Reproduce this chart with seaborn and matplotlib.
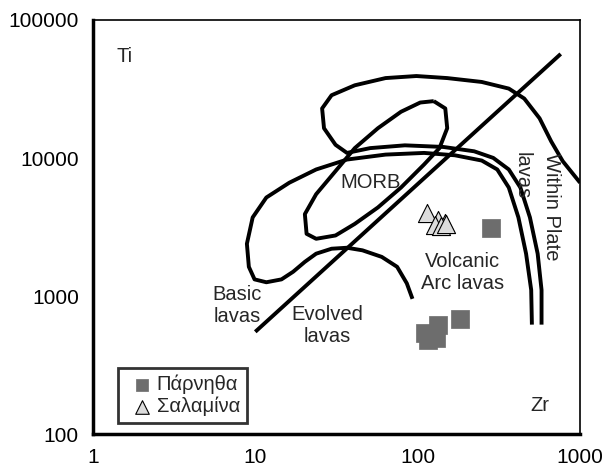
import matplotlib
matplotlib.use("Agg")
import matplotlib.pyplot as plt
import seaborn as sns
import pandas as pd

# sample points
parnitha_zr = [282, 182, 134, 111, 116, 129, 120]
parnitha_ti = [3100, 680, 617, 542, 480, 500, 520]
salamina_zr = [114, 134, 147, 128, 140, 150]
salamina_ti = [3970, 3550, 3370, 3250, 3200, 3300]

# discrimination boundaries (Zr, Ti)
line_zr = [10, 760]
line_ti = [551, 56750]

arc_zr = [92.9, 85.7, 74.7, 60.1, 45.7, 36.7, 29.5, 23.7, 20.2, 17.1, 14.5, 11.7, 9.9, 9.13,
          8.88, 9.64, 11.7, 16.2, 23.7, 36.7, 63.4, 109.5, 169.4, 248, 309, 364, 417, 465, 500, 505]
arc_ti = [955, 1237, 1629, 1922, 2145, 2239, 2203, 2028, 1770, 1500, 1321, 1259, 1321, 1629,
          2393, 3715, 5176, 6625, 8262, 9750, 10590, 10890, 10470, 9590, 8262, 6110, 3715, 2028, 1107, 621]

wpl_zr = [1000, 782, 664, 563, 453, 364, 248, 152, 98.2, 63.4, 41.0, 29.5, 25.8, 26.5, 31.2, 36.7,
          51.0, 83.4, 143.9, 222.7, 292, 364, 429, 491, 548, 579, 579]
wpl_ti = [6625, 9490, 13190, 19400, 26980, 31850, 35570, 37950, 39270, 37950, 33650, 28510, 22870,
          16440, 12470, 10890, 11800, 12360, 12030, 11190, 10020, 8262, 6110, 3715, 2028, 1107, 621]

morb_zr = [125.6, 147.9, 152, 136.2, 109.5, 78.9, 56.9, 41.0, 31.2, 23.7, 20.7, 20.2, 23.7, 31.2,
           41.0, 56.9, 78.9, 103.7, 125.6]
morb_ti = [25830, 22870, 16440, 11800, 8980, 6110, 4385, 3334, 2748, 2600, 2825, 3924, 5470, 8040,
           11800, 16440, 21630, 25240, 25830]

sns.set_style("white")
plt.rcParams['font.family'] = ['Liberation Sans', 'DejaVu Sans']

fig = plt.figure(figsize=(6.03, 4.76), dpi=100)
ax = fig.add_axes([0.154, 0.088, 0.808, 0.870])

for xs, ys in [(line_zr, line_ti), (arc_zr, arc_ti), (wpl_zr, wpl_ti), (morb_zr, morb_ti)]:
    sns.lineplot(x=xs, y=ys, sort=False, estimator=None, color="black", linewidth=2.8,
                 ax=ax, solid_joinstyle="round", solid_capstyle="butt")

pts = pd.DataFrame({
    "Zr": parnitha_zr + salamina_zr,
    "Ti": parnitha_ti + salamina_ti,
    "group": ["Πάρνηθα"] * len(parnitha_zr) + ["Σαλαμίνα"] * len(salamina_zr),
})
sns.scatterplot(data=pts[pts.group == "Πάρνηθα"], x="Zr", y="Ti", marker="s", s=150,
                color="#6d6d6d", edgecolor="#6d6d6d", linewidth=0.5, ax=ax, label="Πάρνηθα")
sns.scatterplot(data=pts[pts.group == "Σαλαμίνα"], x="Zr", y="Ti", marker="^", s=170,
                color="#dcdcdc", edgecolor="black", linewidth=0.8, ax=ax, label="Σαλαμίνα")

ax.set_xscale("log")
ax.set_yscale("log")
ax.set_xlim(1, 1000)
ax.set_ylim(100, 100000)
ax.set_xticks([1, 10, 100, 1000])
ax.set_xticklabels(["1", "10", "100", "1000"])
ax.set_yticks([100, 1000, 10000, 100000])
ax.set_yticklabels(["100", "1000", "10000", "100000"])
ax.minorticks_off()
ax.tick_params(direction="out", length=5, width=1.5, labelsize=15, colors="black", pad=5)
ax.set_xlabel("")
ax.set_ylabel("")

for side in ["left", "bottom"]:
    ax.spines[side].set_linewidth(2.5)
    ax.spines[side].set_color("black")
for side in ["right", "top"]:
    ax.spines[side].set_linewidth(1.2)
    ax.spines[side].set_color("black")

fs = 14.5
ax.text(1.57, 54000, "Ti", fontsize=fs, ha="center", va="center")
ax.text(568, 162, "Zr", fontsize=fs, ha="center", va="center")
ax.text(51, 6700, "MORB", fontsize=fs, ha="center", va="center")
ax.text(188, 1490, "Volcanic\nArc lavas", fontsize=fs, ha="center", va="center", linespacing=1.2)
ax.text(7.7, 861, "Basic\nlavas", fontsize=fs, ha="center", va="center", linespacing=1.2)
ax.text(27.7, 617, "Evolved\nlavas", fontsize=fs, ha="center", va="center", linespacing=1.2)
ax.text(442, 7420, "lavas", fontsize=fs, ha="center", va="center", rotation=-90)
ax.text(670, 4450, "Within Plate", fontsize=fs, ha="center", va="center", rotation=-90)

leg = ax.legend(loc="lower left", bbox_to_anchor=(0.04, 0.012), fontsize=fs, frameon=True,
                fancybox=False, edgecolor="black", handletextpad=-0.05, handlelength=1.6,
                borderpad=0.35, labelspacing=0.12, markerscale=0.75, borderaxespad=0.3)
leg.get_frame().set_linewidth(2.0)

fig.savefig("out.png", dpi=100)
